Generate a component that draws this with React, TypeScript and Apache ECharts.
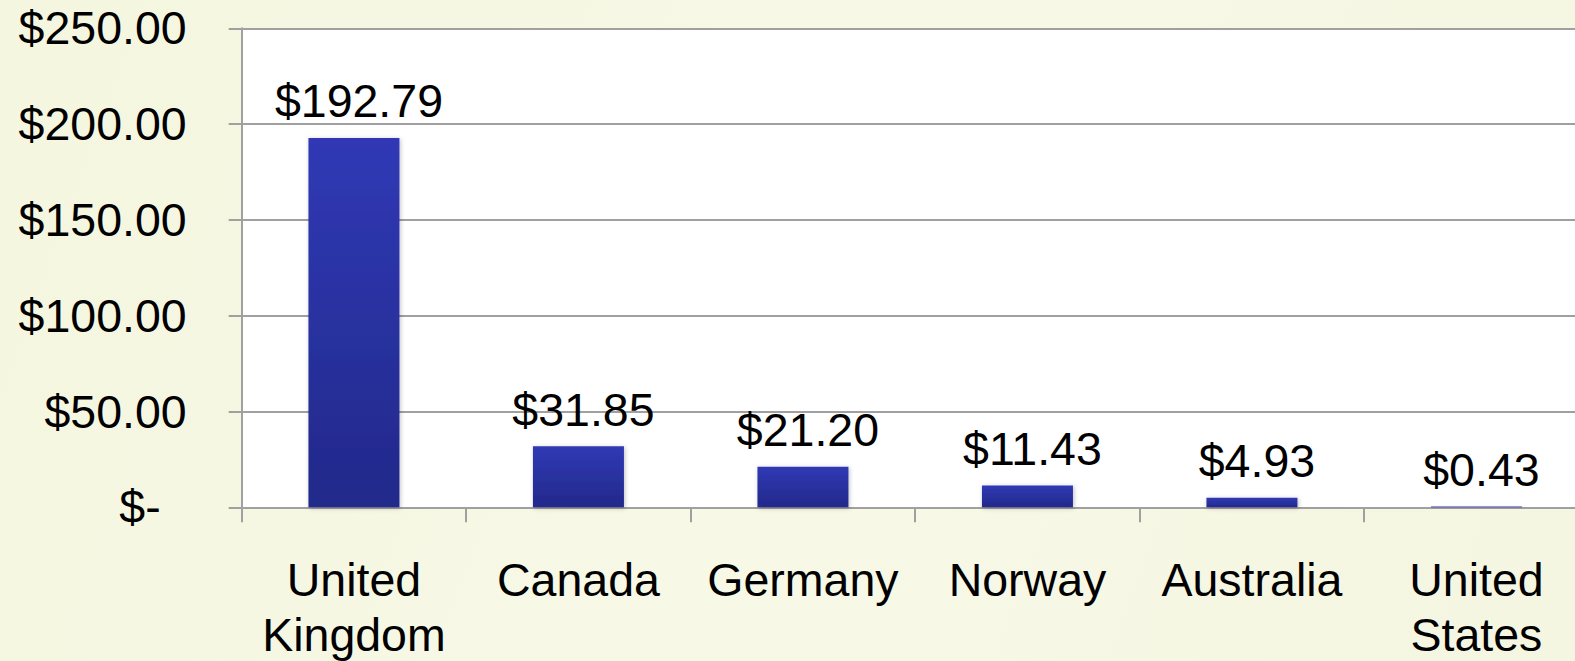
import React, { useEffect, useRef } from "react";
import * as echarts from "echarts";

const categories = ["United\nKingdom", "Canada", "Germany", "Norway", "Australia", "United\nStates"];
const values = [192.79, 31.85, 21.2, 11.43, 4.93, 0.43];
const yTicks = { min: 0, max: 250, interval: 50 };

const FONT = "'Liberation Sans', Arial, sans-serif";
const FS = 46.5;

function fmtMoney(v: number): string {
  return "$" + v.toFixed(2).replace(/\B(?=(\d{3})+(?!\d))/g, ",");
}

export default function App() {
  const ref = useRef<HTMLDivElement>(null);
  useEffect(() => {
    if (!ref.current) return;
    const chart = echarts.init(ref.current, undefined, { renderer: "svg" });
    chart.setOption({
      animation: false,
      backgroundColor: "transparent",
      grid: {
        left: 241.7,
        top: 28.3,
        width: 1347,
        height: 479,
        show: true,
        backgroundColor: "#ffffff",
        borderWidth: 0,
        containLabel: false,
        outerBoundsMode: "none",
      },
      xAxis: {
        type: "category",
        data: categories,
        axisLine: { show: true, lineStyle: { color: "#a0a0a0", width: 2 } },
        axisTick: { show: true, alignWithLabel: false, length: 15, lineStyle: { color: "#a0a0a0", width: 2 } },
        axisLabel: {
          interval: 0,
          margin: 45,
          color: "#000",
          fontSize: FS,
          lineHeight: 55,
          fontFamily: FONT,
        },
      },
      yAxis: {
        type: "value",
        min: yTicks.min,
        max: yTicks.max,
        interval: yTicks.interval,
        axisLine: { show: true, lineStyle: { color: "#a0a0a0", width: 2 } },
        axisTick: { show: true, length: 13, lineStyle: { color: "#a0a0a0", width: 2 } },
        splitLine: { show: true, lineStyle: { color: "#a0a0a0", width: 2 } },
        axisLabel: {
          margin: 55,
          color: "#000",
          fontSize: FS,
          fontFamily: FONT,
          formatter: (v: number) => (v === 0 ? "{z|$-}" : fmtMoney(v)),
          rich: {
            z: { fontSize: FS, fontFamily: FONT, color: "#000", padding: [0, 26, 0, 0] },
          },
        },
      },
      series: [
        {
          type: "bar",
          data: values,
          barWidth: 91,
          itemStyle: {
            color: new echarts.graphic.LinearGradient(0, 0, 0, 1, [
              { offset: 0, color: "#3039b5" },
              { offset: 1, color: "#22298a" },
            ]),
            shadowBlur: 4,
            shadowColor: "rgba(0,0,0,0.25)",
            shadowOffsetX: 1,
            shadowOffsetY: 1,
          },
          label: {
            show: true,
            position: "top",
            distance: 13,
            offset: [5, 0],
            color: "#000",
            fontSize: FS,
            fontFamily: FONT,
            formatter: (p: any) => fmtMoney(p.value),
          },
        },
      ],
    });
    return () => chart.dispose();
  }, []);
  return (
    <div
      style={{
        position: "fixed",
        left: 0,
        top: 0,
        width: 1575,
        height: 661,
        overflow: "hidden",
        background: "linear-gradient(110deg, #f4f6df 0%, #f7f8e6 50%, #f5f6e1 100%)",
      }}
    >
      <div ref={ref} style={{ width: 1600, height: 661 }} />
    </div>
  );
}
